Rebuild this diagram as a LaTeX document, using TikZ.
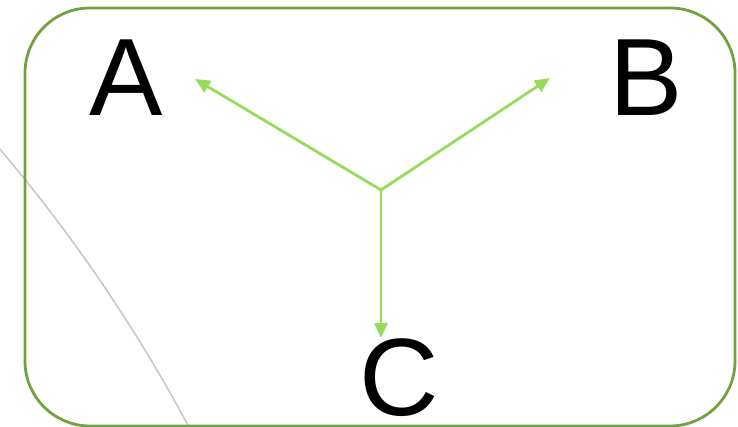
\documentclass[tikz,border=0pt]{standalone}
\usepackage{fontspec}
\setmainfont{Liberation Sans}
\usepackage{xcolor}
\usepackage{tikz}
\usetikzlibrary{arrows.meta}
\definecolor{frameGreen}{HTML}{70A33E}
\definecolor{arrowGreen}{HTML}{96DC5A}
\definecolor{arcGray}{HTML}{C8C8C8}

\begin{document}
\begin{tikzpicture}[
        x=1pt, y=-1pt,
        letter/.style={inner sep=0pt, font=\fontsize{110}{110}\selectfont},
        arr/.style={-{Triangle[length=15pt,width=13pt]}, line width=2.8pt, arrowGreen},
    ]
        \useasboundingbox (0,0) rectangle (738,427);
        % faint arc in the background
        \begin{scope}
            \clip (0,0) rectangle (738,427);
            \draw[arcGray, line width=1.6pt] (-1203,1169) circle[radius=1577pt];
        \end{scope}
        \draw[frameGreen, line width=2.8pt, rounded corners=65pt] (25,8) rectangle (735,426);

        \node[letter] (a) at (126,77.5) {A};
        \node[letter] (b) at (646,78) {B};
        \node[letter] (c) at (399,378) {C};

        \coordinate (hub) at (381,190);
        \coordinate (toA) at (195,79);
        \coordinate (toB) at (550,78);
        \coordinate (toC) at (381,338);

        \draw[arr] (hub) -- (toA);
        \draw[arr] (hub) -- (toB);
        \draw[arr] (hub) -- (toC);
    \end{tikzpicture}
\end{document}
